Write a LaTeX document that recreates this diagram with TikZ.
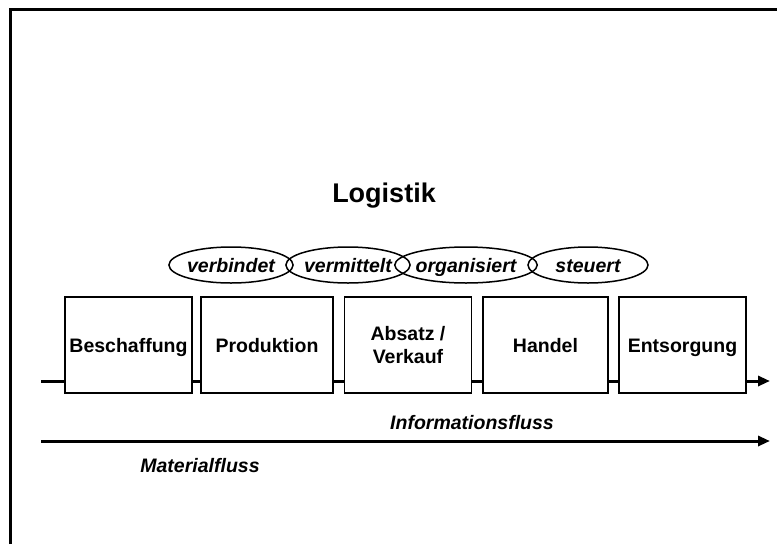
\documentclass[tikz,border=0pt]{standalone}
\usepackage{fontspec}
\setmainfont{Liberation Sans}
\usetikzlibrary{shapes.geometric,arrows.meta}
\begin{document}
\begin{tikzpicture}[x=1pt, y=-1pt,
    area/.style={draw, line width=1.5pt, fill=white, minimum width=127pt, minimum height=96pt, inner sep=0pt, text height=14pt, text depth=0pt, font=\fontsize{19.5}{23}\selectfont\bfseries, align=center},
    task/.style={ellipse, draw, line width=1.5pt, minimum width=120pt, minimum height=36pt, inner sep=0pt, text height=14pt, text depth=0pt, font=\fontsize{19.5}{23}\selectfont\bfseries\itshape},
    flow/.style={line width=3pt, -{Triangle[length=12pt,width=10pt]}},
    caption/.style={text height=14pt, text depth=0pt, font=\fontsize{19.5}{23}\selectfont\bfseries\itshape}]
    \useasboundingbox (0,0) rectangle (777,544);
    \draw[line width=3pt] (10,544) -- (10,9) -- (777,9);
    \node[text height=19.5pt, text depth=0pt, font=\fontsize{27}{30}\selectfont\bfseries] (title) at (384,193){Logistik};
    \node[task] (tsk1) at (231,265){verbindet};
    \node[task] (tsk2) at (348,265){vermittelt};
    \node[task] (tsk3) at (466,265){organisiert};
    \node[task] (tsk4) at (588,265){steuert};
    \coordinate (ifrom) at (41,381);
    \coordinate (ito) at (770,381);
    \draw[flow](ifrom) -- (ito);
    \node[area] (box1) at (128.5,345){Beschaffung};
    \node[area, minimum width=132pt] (box2) at (267,345){Produktion};
    \node[area, text height={}, text depth={}] (box3) at (408,345){Absatz /\\Verkauf};
    \node[area, minimum width=125pt] (box4) at (545.5,345){Handel};
    \node[area] (box5) at (682.5,345){Entsorgung};
    \node[caption] (info) at (472,422){Informationsfluss};
    \coordinate (mfrom) at (41,441);
    \coordinate (mto) at (770,441);
    \draw[flow](mfrom) -- (mto);
    \node[caption] (mat) at (200,465){Materialfluss};
  \end{tikzpicture}
\end{document}
